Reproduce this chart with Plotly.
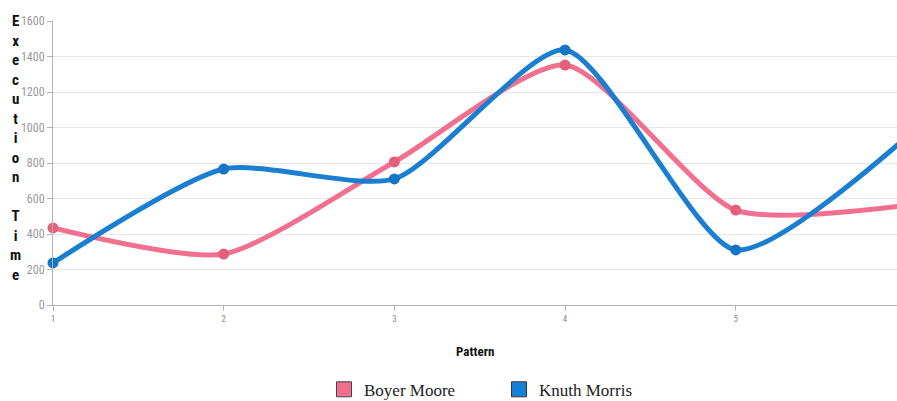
import plotly.graph_objects as go

patterns = [1, 2, 3, 4, 5, 6]
boyer_moore = [434, 287, 806, 1352, 535, 562]
knuth_morris = [237, 766, 710, 1437, 310, 945]
y_ticks = [0, 200, 400, 600, 800, 1000, 1200, 1400, 1600]

pink = "#f2708f"
pink_m = "#e0607e"
blue = "#1a7fd0"
blue_m = "#1576c6"

fig = go.Figure()
fig.add_trace(go.Scatter(x=patterns, y=boyer_moore, mode="lines+markers",
                         line=dict(color=pink, width=5, shape="spline", smoothing=0.65),
                         marker=dict(color=pink_m, size=11), showlegend=False, cliponaxis=False))
fig.add_trace(go.Scatter(x=patterns, y=knuth_morris, mode="lines+markers",
                         line=dict(color=blue, width=5, shape="spline", smoothing=0.65),
                         marker=dict(color=blue_m, size=11), showlegend=False, cliponaxis=False))
# legend entries with square swatches
fig.add_trace(go.Scatter(x=[None], y=[None], mode="markers", name="Boyer Moore",
                         marker=dict(symbol="square", size=15, color="#f26d8e",
                                     line=dict(color="#444", width=1))))
fig.add_trace(go.Scatter(x=[None], y=[None], mode="markers", name="Knuth Morris",
                         marker=dict(symbol="square", size=15, color="#1580d8",
                                     line=dict(color="#333", width=1))))

narrow = "Liberation Sans Narrow, Roboto Condensed, Arial Narrow, Roboto, sans-serif"

fig.update_layout(
    width=897, height=401,
    margin=dict(l=53, r=0, t=21, b=96),
    paper_bgcolor="white", plot_bgcolor="white",
    showlegend=True,
    legend=dict(orientation="h", x=(336 - 53 - 12) / 844, xanchor="left", yref="container",
                y=0.028, yanchor="middle",
                font=dict(family="Liberation Serif, Times New Roman, serif", size=17, color="#222"),
                entrywidth=130, itemwidth=30, itemsizing="trace"),
    xaxis=dict(range=[1, 5.945], tickvals=patterns[:5], ticktext=[str(p) for p in patterns[:5]],
               showgrid=False, showline=True, linecolor="#b5b5b5", linewidth=1,
               ticks="outside", ticklen=5, tickcolor="#b5b5b5",
               tickfont=dict(family=narrow, size=9, color="#888"), zeroline=False),
    yaxis=dict(range=[0, 1600], tickvals=y_ticks, showgrid=True, gridcolor="#e6e6e6",
               showline=True, linecolor="#b5b5b5", linewidth=1,
               ticks="outside", ticklen=5, tickcolor="#b5b5b5",
               tickfont=dict(family=narrow, size=12, color="#999"), zeroline=False),
)

fig.add_annotation(text="<b>Pattern</b>", xref="paper", yref="paper", x=0.5, y=-46/284,
                   xanchor="center", yanchor="middle", showarrow=False,
                   font=dict(family=narrow, size=13, color="#111"))
ylabel = "<br>".join(list("Execution")) + "<br> <br>" + "<br>".join(list("Time"))
fig.add_annotation(text="<b>" + ylabel + "</b>", xref="paper", yref="paper",
                   x=-38/844, y=1 + 11/284, xanchor="center", yanchor="top", showarrow=False,
                   align="center", font=dict(family=narrow, size=15, color="#111"))

fig.write_html("out.html", config={"displayModeBar": False},
               post_script="document.body.style.margin='0';document.body.style.padding='0';")
